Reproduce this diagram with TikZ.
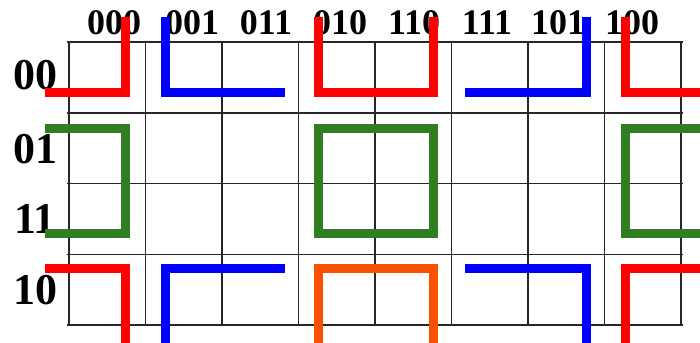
\documentclass[tikz,border=0pt]{standalone}
\usepackage{fontspec}
\setmainfont{Liberation Serif}
\definecolor{grpred}{RGB}{255,0,0}
\definecolor{grpblue}{RGB}{0,0,255}
\definecolor{grpgreen}{RGB}{48,125,34}
\definecolor{grporange}{RGB}{248,82,0}
\usetikzlibrary{positioning}

\begin{document}
\begin{tikzpicture}[x=1pt,y=-1pt,
  gridline/.style={black!85,line width=1.3pt},
  grp/.style={line width=9pt,miter limit=4},
  collabel/.style={anchor=base,font=\fontsize{36}{40}\selectfont\bfseries},
  rowlabel/.style={anchor=base,font=\fontsize{44}{48}\selectfont\bfseries}]
  \useasboundingbox (0,0) rectangle (700,342);
  \clip (0,0) rectangle (700,342);
  % Grid
  \foreach \y in {42,113,183.5,254.5,325} {
    \draw[gridline] (67,\y) -- (683,\y);
  }
  \foreach \x in {69,145.5,222,298.5,375,451.5,528,604.5,681} {
    \draw[gridline] (\x,42) -- (\x,325);
  }
  % Column labels
  \foreach \x/\t [count=\i] in {114/000,192/001,266/011,340/010,414/110,487/111,558/101,632/100} {
    \node[collabel] (col\i) at (\x,35) {\t};
  }
  % Row labels
  \foreach \y/\t [count=\i] in {90/00,163/01,233/11,304/10} {
    \node[rowlabel] (row\i) at (35,\y) {\t};
  }
  % Top row groups
  \draw[grp,grpred] (45,92.5) -- (125.7,92.5) -- (125.7,17);
  \draw[grp,grpblue] (165,17) -- (165,92.5) -- (285,92.5);
  \draw[grp,grpred] (318,17) -- (318,92.5) -- (433,92.5) -- (433,17);
  \draw[grp,grpblue] (465,92.5) -- (586,92.5) -- (586,17);
  \draw[grp,grpred] (625,17) -- (625,92.5) -- (700,92.5);
  % Middle rows groups
  \draw[grp,grpgreen] (45,128) -- (125.7,128) -- (125.7,233) -- (45,233);
  \draw[grp,grpgreen] (318,128) rectangle (433,233);
  \draw[grp,grpgreen] (700,128) -- (625,128) -- (625,233) -- (700,233);
  % Bottom row groups
  \draw[grp,grpred] (45,268.5) -- (125.7,268.5) -- (125.7,350);
  \draw[grp,grpblue] (165,350) -- (165,268.5) -- (285,268.5);
  \draw[grp,grporange] (318,350) -- (318,268.5) -- (433,268.5) -- (433,350);
  \draw[grp,grpblue] (465,268.5) -- (586,268.5) -- (586,350);
  \draw[grp,grpred] (625,350) -- (625,268.5) -- (700,268.5);
\end{tikzpicture}
\end{document}
